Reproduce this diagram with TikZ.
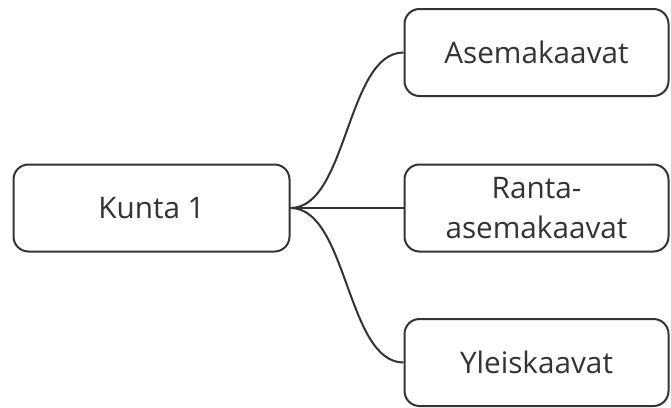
\documentclass[tikz,border=0pt]{standalone}
\usepackage{fontspec}
\setmainfont{Open Sans}
\definecolor{ink}{HTML}{333333}
\begin{document}
\begin{tikzpicture}[x=1pt,y=-1pt,
  box/.style={draw=ink, line width=2pt, rounded corners=15pt, inner sep=0pt,
    minimum height=87pt, text=ink, align=center,
    font=\fontsize{29.7}{40}\selectfont},
  link/.style={draw=ink, line width=2pt}]
\useasboundingbox (0,0) rectangle (671,407);
\node[box, minimum width=276pt] (k) at (151.5,208) {Kunta 1};
\node[box, minimum width=264pt] (a) at (536.5,52.5) {Asemakaavat};
\node[box, minimum width=264pt] (r) at (536.5,208) {Ranta-\\asemakaavat};
\node[box, minimum width=264pt] (y) at (536.5,362.5) {Yleiskaavat};
\draw[link] (k.east) .. controls +(57,0) and +(-57,0) .. (a.west);
\draw[link] (k.east) -- (r.west);
\draw[link] (k.east) .. controls +(57,0) and +(-57,0) .. (y.west);
\end{tikzpicture}
\end{document}
